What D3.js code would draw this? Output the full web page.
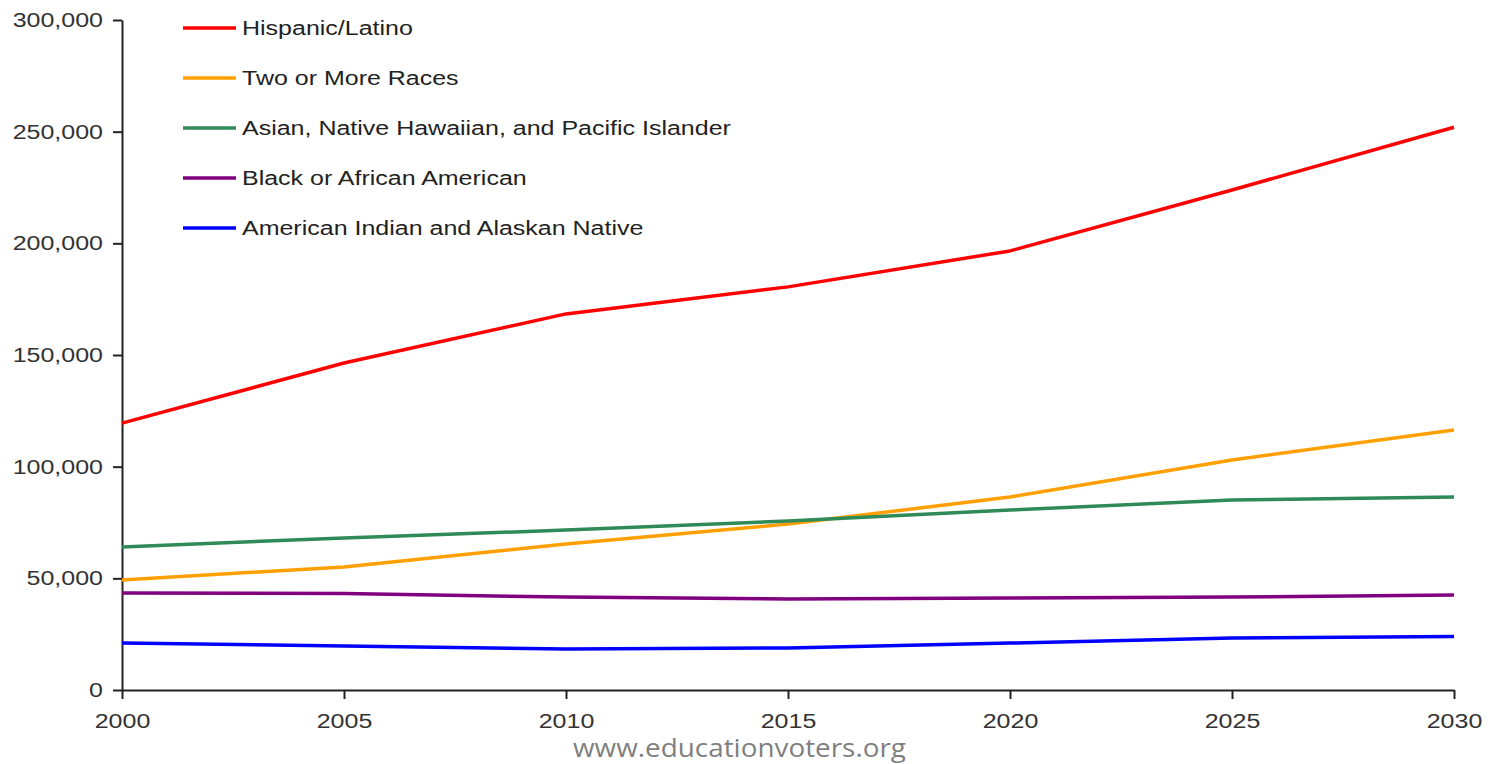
<!DOCTYPE html>
<html>
<head>
<meta charset="utf-8">
<script src="https://cdn.jsdelivr.net/npm/d3@7"></script>
<style>
  body { margin: 0; background: #fff; }
  svg text { font-family: "Liberation Sans", Arial, sans-serif; }
</style>
</head>
<body>
<svg id="chart" width="1491" height="764"></svg>
<script>
const years = [2000, 2005, 2010, 2015, 2020, 2025, 2030];
const yTicks = [0, 50000, 100000, 150000, 200000, 250000, 300000];

const seriesNames = [
    "Hispanic/Latino",
    "Two or More Races",
    "Asian, Native Hawaiian, and Pacific Islander",
    "Black or African American",
    "American Indian and Alaskan Native"
];
const seriesColors = ["#ff0000", "#ffa000", "#2e8b57", "#800080", "#0000ff"];

const hispanic = [119500, 146400, 168400, 180500, 196600, 223900, 252000];
const twoOrMore = [49300, 55100, 65400, 74300, 86400, 103000, 116400];
const asian = [64000, 68100, 71600, 75700, 80600, 85100, 86400];
const black = [43400, 43200, 41600, 40800, 41200, 41600, 42500];
const amIndian = [21000, 19700, 18400, 18800, 21000, 23300, 23900];

const seriesValues = [hispanic, twoOrMore, asian, black, amIndian];

// the source picture is stretched sideways, so text is too
const STRETCH = 1.25;

const svg = d3.select("#chart");
const margin = {left: 122, right: 37, top: 20, bottom: 74};
const width = 1491, height = 764;

const x = d3.scaleLinear()
    .domain([2000, 2030])
    .range([margin.left, width - margin.right]);
const y = d3.scaleLinear()
    .domain([0, 300000])
    .range([height - margin.bottom, margin.top]);

const fmt = d3.format(",");

// y axis
const yAxis = svg.append("g")
    .attr("transform", `translate(${margin.left},0)`)
    .call(d3.axisLeft(y).tickValues(yTicks).tickFormat(fmt).tickSize(9).tickSizeOuter(0).tickPadding(10));
yAxis.select(".domain").attr("stroke", "#222").attr("stroke-width", 2);
yAxis.selectAll(".tick line").attr("stroke", "#222").attr("stroke-width", 2);
yAxis.selectAll("text")
    .attr("font-size", 20)
    .attr("fill", "#333")
    .attr("x", -19 / STRETCH)
    .attr("transform", `scale(${STRETCH},1)`);

// x axis
const xAxis = svg.append("g")
    .attr("transform", `translate(0,${y(0)})`)
    .call(d3.axisBottom(x).tickValues(years).tickFormat(d3.format("d")).tickSize(9).tickSizeOuter(0).tickPadding(15));
xAxis.select(".domain").attr("stroke", "#222").attr("stroke-width", 2);
xAxis.selectAll(".tick line").attr("stroke", "#222").attr("stroke-width", 2);
xAxis.selectAll("text")
    .attr("font-size", 20)
    .attr("fill", "#333")
    .attr("transform", `scale(${STRETCH},1)`);

// lines
const line = d3.line()
    .x((d, i) => x(years[i]))
    .y(d => y(d));

svg.append("g")
    .selectAll("path")
    .data(seriesValues)
    .enter()
    .append("path")
    .attr("d", d => line(d))
    .attr("fill", "none")
    .attr("stroke", (d, i) => seriesColors[i])
    .attr("stroke-width", 3.5)
    .attr("stroke-linejoin", "round");

// legend
const legend = svg.append("g")
    .selectAll("g")
    .data(seriesNames)
    .enter()
    .append("g")
    .attr("transform", (d, i) => `translate(183,${28 + i * 50})`);
legend.append("line")
    .attr("x1", 0).attr("x2", 53)
    .attr("y1", 0).attr("y2", 0)
    .attr("stroke", (d, i) => seriesColors[i])
    .attr("stroke-width", 3.5);
legend.append("text")
    .attr("transform", `translate(59,7) scale(${STRETCH},1)`)
    .attr("font-size", 20)
    .attr("fill", "#222")
    .text(d => d);

// watermark
svg.append("text")
    .attr("x", 573)
    .attr("y", 757)
    .attr("font-size", 25)
    .attr("fill", "#7f7f7f")
    .attr("textLength", 333)
    .attr("lengthAdjust", "spacingAndGlyphs")
    .style("font-family", "'Open Sans', sans-serif")
    .text("www.educationvoters.org");
</script>
</body>
</html>
